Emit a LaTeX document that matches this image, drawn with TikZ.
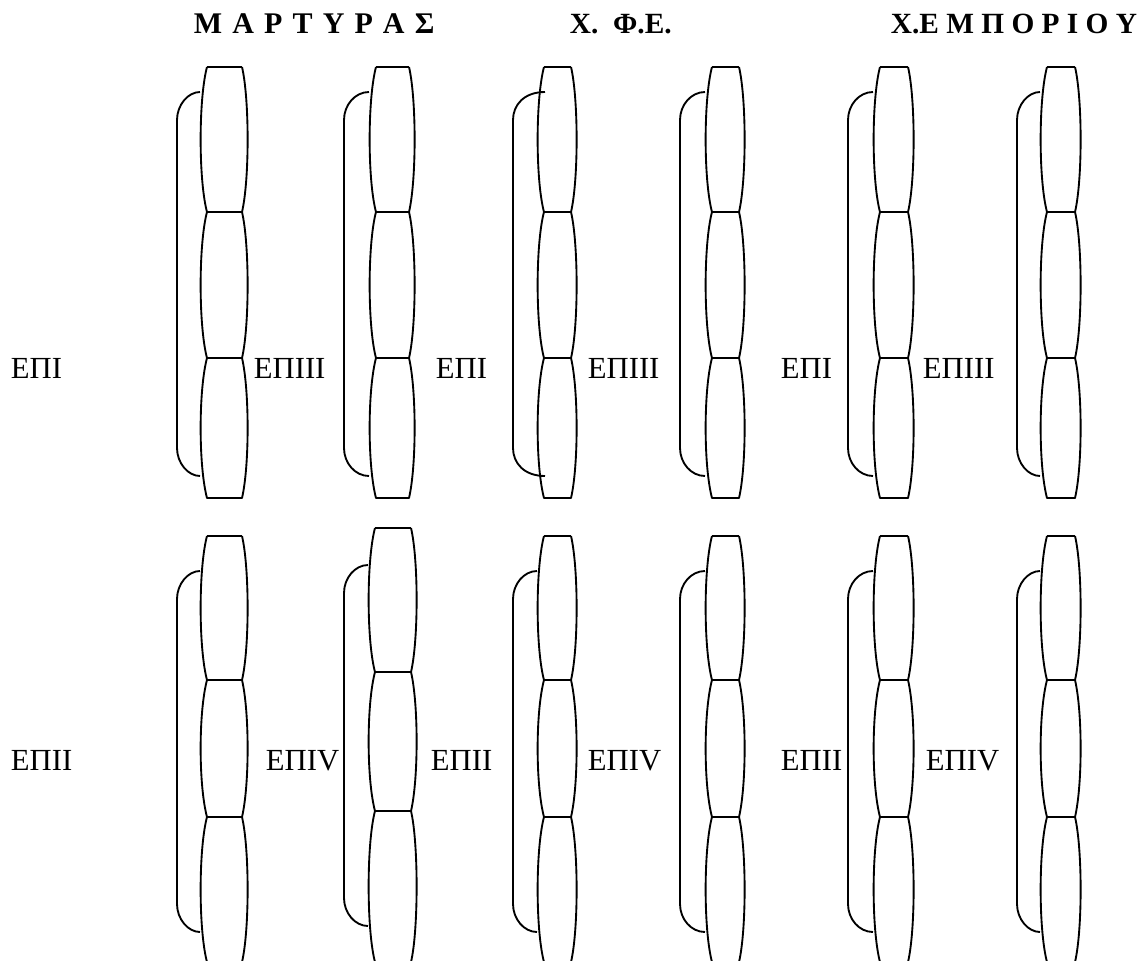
\documentclass[tikz,border=0pt]{standalone}
\usepackage{fontspec}
\setmainfont{Liberation Serif}
\newfontfamily\headfont{Liberation Serif}[WordSpace=1.35]
\begin{document}
\begin{tikzpicture}[x=0.75pt,y=-0.75pt,line width=1.4pt,line join=round,
 lab/.style={anchor=base west,inner sep=0pt,font=\fontsize{23}{28}\selectfont},
 head/.style={anchor=base west,inner sep=0pt,font=\fontsize{22}{26}\selectfont\bfseries},
 barrel/.style={draw=black},brk/.style={draw=black}]
\useasboundingbox (0,0) rectangle (1141,960);
\node[head,font=\fontsize{22.5}{26}\headfont\bfseries] (mart) at (193,33) {Μ Α Ρ Τ Υ Ρ Α Σ};
\node[head] (xfe) at (569,33) {Χ.\ \ Φ.Ε.};
\node[head] (xemp) at (890,33) {Χ.Ε Μ Π Ο Ρ Ι Ο Υ};
\foreach \b/\l/\r/\ya/\yb/\yc/\yd/\bt/\bb/\e in {
 177/200/248/67/212/358/498/92/476/0, 344/369/415/67/212/358/498/92/476/0,
 513/537/577/67/212/358/498/92/476/8, 680/705/745/67/212/358/498/92/476/0,
 848/873/914/67/212/358/498/92/476/0, 1017/1040/1081/67/212/358/498/92/476/0,
 177/200/248/536/680/817/962/571/932/0, 344/368/417/528/672/811/962/565/926/0,
 513/537/577/536/680/817/962/571/932/0, 680/705/745/536/680/817/962/571/932/0,
 848/873/914/536/680/817/962/571/932/0, 1017/1040/1081/536/680/817/962/571/932/0}{
 \draw[barrel] (\l+7,\ya) -- (\r-6,\ya);
 \foreach \u/\v in {\ya/\yb,\yb/\yc,\yc/\yd}
  \draw[barrel] (\l+7,\u) .. controls (\l-1.5,\u+32) and (\l-1.5,\v-32) .. (\l+7,\v) -- (\r-6,\v)
   .. controls (\r+1.5,\v-32) and (\r+1.5,\u+32) .. (\r-6,\u);
 \draw[brk] (\l+\e,\bt) .. controls (\b+11,\bt) and (\b,\bt+13) .. (\b,\bt+28) -- (\b,\bb-28)
  .. controls (\b,\bb-13) and (\b+11,\bb) .. (\l+\e,\bb);
}
\node[lab] (t1) at (10,378) {ΕΠI};
\node[lab] (t2) at (253,378) {ΕΠIII};
\node[lab] (t3) at (435,378) {ΕΠI};
\node[lab] (t4) at (587,378) {ΕΠIII};
\node[lab] (t5) at (780,378) {ΕΠI};
\node[lab] (t6) at (922,378) {ΕΠIII};
\node[lab] (b1) at (10,770) {ΕΠII};
\node[lab] (b2) at (265,770) {ΕΠIV};
\node[lab] (b3) at (430,770) {ΕΠII};
\node[lab] (b4) at (587,770) {ΕΠIV};
\node[lab] (b5) at (780,770) {ΕΠII};
\node[lab] (b6) at (925,770) {ΕΠIV};
\end{tikzpicture}
\end{document}
